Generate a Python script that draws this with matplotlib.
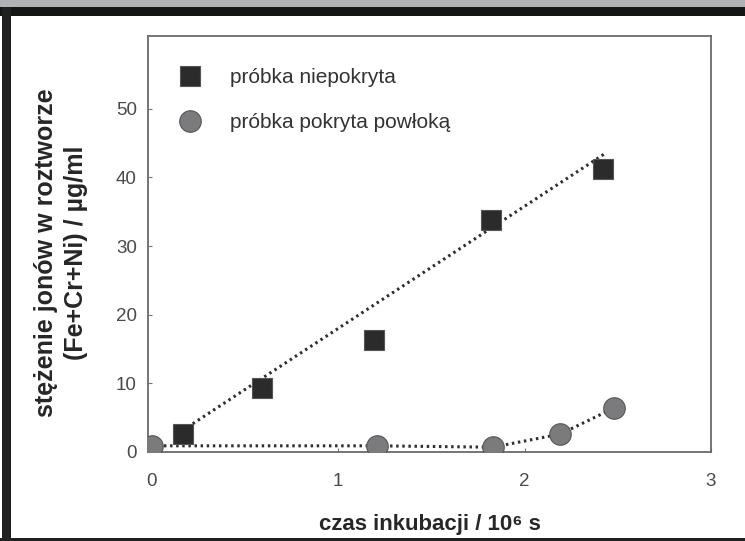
import matplotlib
matplotlib.use('Agg')
import matplotlib.pyplot as plt
from matplotlib.patches import Rectangle

plt.rcParams['font.family'] = ['Liberation Sans', 'DejaVu Sans']

# data
t_uncoated = [0.17, 0.59, 1.19, 1.82, 2.42]
c_uncoated = [2.6, 9.3, 16.3, 33.8, 41.2]
t_coated = [0.0, 1.21, 1.83, 2.19, 2.48]
c_coated = [0.9, 0.9, 0.7, 2.6, 6.4]
# trend line for the uncoated sample (as drawn in the chart)
trend_slope = 17.8
trend_intercept = 0.2
trend_range = [0.22, 2.43]

label_uncoated = 'próbka niepokryta'
label_coated = 'próbka pokryta powłoką'
xlabel = 'czas inkubacji / 10⁶ s'
ylabel = 'stężenie jonów w roztworze\n(Fe+Cr+Ni) / µg/ml'
xticks = [0, 1, 2, 3]
yticks = [0, 10, 20, 30, 40, 50]

fig = plt.figure(figsize=(7.45, 5.41), dpi=100)
fig.patch.set_facecolor('white')

# scan frame around the figure
fig.patches.append(Rectangle((0, 1 - 7 / 541), 1, 7 / 541, transform=fig.transFigure,
                             facecolor='#b1b2b6', edgecolor='none', zorder=0))
fig.patches.append(Rectangle((0, 1 - 16 / 541), 1, 9 / 541, transform=fig.transFigure,
                             facecolor='#151515', edgecolor='none', zorder=0))
fig.patches.append(Rectangle((2 / 745, 0), 9 / 745, 1 - 7 / 541, transform=fig.transFigure,
                             facecolor='#202020', edgecolor='none', zorder=0))
fig.patches.append(Rectangle((0, 0), 1, 3 / 541, transform=fig.transFigure,
                             facecolor='#202020', edgecolor='none', zorder=0))

ax = fig.add_axes([148 / 745, 1 - 452 / 541, (711 - 148) / 745, (452 - 36) / 541])

trend_y = [trend_slope * x + trend_intercept for x in trend_range]
ax.plot(trend_range, trend_y, color='#2e2e2e', lw=2.2, ls=(0, (0.8, 1.2)), zorder=2)
ax.plot(t_coated, c_coated, color='#2e2e2e', lw=2.2, ls=(0, (0.8, 1.2)), zorder=2)

ax.plot(t_uncoated, c_uncoated, ls='none', marker='s', ms=14.5, mfc='#2b2b2b',
        mec='#555555', mew=0.8, label=label_uncoated, zorder=3)
ax.plot(t_coated, c_coated, ls='none', marker='o', ms=15.5, mfc='#7b7b7d',
        mec='#555555', mew=0.8, label=label_coated, zorder=3)

ax.set_xlim(-0.02, 3.0)
ax.set_ylim(0, 60.6)
ax.set_xticks(xticks)
ax.set_yticks(yticks)
ax.tick_params(direction='in', length=3, width=0.8, color='#777777',
               labelcolor='#4a4a4a', labelsize=13.5)
ax.tick_params(axis='x', pad=15)
ax.tick_params(axis='y', pad=8)
for s in ax.spines.values():
    s.set_color('#6a6a6a')
    s.set_linewidth(1.3)

ax.set_xlabel(xlabel, fontsize=16, fontweight='bold', color='#262626')
ax.xaxis.set_label_coords(0.5, -0.148)
ax.set_ylabel(ylabel, fontsize=18, fontweight='bold', color='#262626', linespacing=1.3)
ax.yaxis.set_label_coords(-0.107, 0.48)

leg = ax.legend(loc='upper left', bbox_to_anchor=(0.011, 0.968), frameon=False,
                fontsize=15, labelspacing=1.25, handletextpad=1.15, handlelength=1.6)
for txt in leg.get_texts():
    txt.set_color('#333333')

fig.savefig('out.png', dpi=100)
